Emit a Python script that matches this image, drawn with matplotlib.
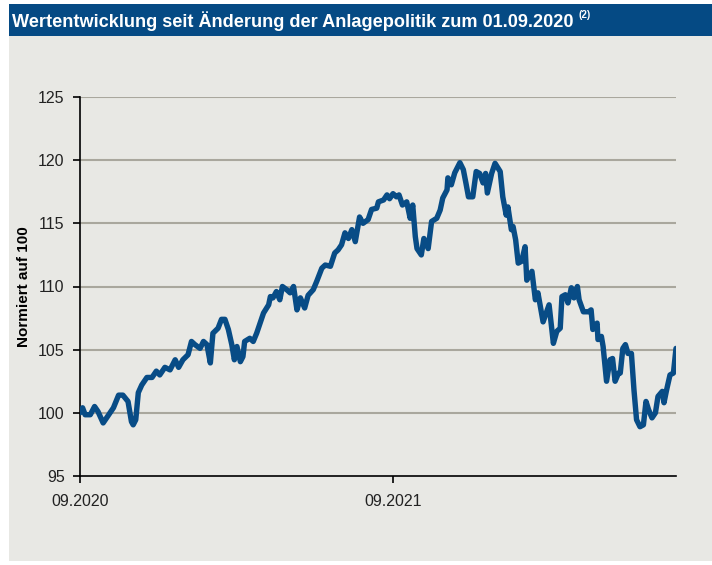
import matplotlib
matplotlib.use("Agg")
import matplotlib.pyplot as plt
from matplotlib.patches import Rectangle
import pandas as pd

# ---------------- data ----------------
start_date = "2020-09-01"
day_offsets = [0, 3, 6, 12, 17, 21, 27, 35, 39, 45, 50, 56, 60, 62, 65, 68, 72, 78, 84, 89,
               93, 99, 105, 111, 115, 120, 126, 130, 134, 140, 144, 148, 152, 155, 161, 165,
               169, 173, 177, 180, 183, 187, 190, 192, 198, 202, 206, 210, 214, 220, 222, 225,
               229, 233, 236, 241, 245, 249, 253, 257, 262, 266, 272, 276, 282, 286, 292, 297,
               301, 305, 309, 313, 317, 321, 326, 330, 336, 340, 346, 348, 354, 358, 361, 365,
               369, 372, 376, 381, 385, 388, 391, 393, 398, 401, 406, 410, 416, 420, 423, 428,
               429, 433, 437, 443, 447, 450, 453, 458, 462, 466, 470, 473, 475, 480, 484, 490,
               493, 497, 499, 503, 505, 508, 511, 515, 519, 521, 527, 531, 534, 540, 547, 552,
               556, 560, 562, 566, 569, 573, 576, 580, 582, 587, 593, 596, 598, 603, 604, 608,
               610, 614, 618, 621, 624, 628, 630, 633, 636, 639, 643, 646, 649, 653, 657, 660,
               663, 667, 671, 674, 679, 681, 684, 688, 692, 695]
values = [100.0, 100.4, 99.85, 99.85, 100.5, 100.1, 99.2, 100.0, 100.4, 101.4, 101.4, 100.9,
          99.3, 99.05, 99.45, 101.6, 102.2, 102.8, 102.8, 103.3, 103.0, 103.6, 103.4, 104.2,
          103.6, 104.2, 104.6, 105.65, 105.4, 105.1, 105.65, 105.4, 103.95, 106.3, 106.7, 107.4,
          107.4, 106.6, 105.4, 104.2, 105.25, 104.05, 104.45, 105.65, 105.9, 105.65, 106.3, 107.1,
          107.9, 108.55, 109.2, 109.1, 109.6, 108.95, 110.0, 109.75, 109.5, 110.0, 108.15, 109.1,
          108.3, 109.3, 109.75, 110.4, 111.45, 111.7, 111.6, 112.65, 112.9, 113.3, 114.25, 113.8,
          114.5, 113.55, 115.5, 115.0, 115.3, 116.1, 116.2, 116.7, 116.85, 117.25, 116.95, 117.35,
          117.1, 117.25, 116.45, 116.7, 115.4, 116.45, 113.95, 113.0, 112.5, 113.8, 113.0, 115.15,
          115.4, 116.05, 117.0, 117.65, 118.6, 118.05, 119.0, 119.8, 119.25, 118.2, 117.1, 117.1,
          119.1, 118.95, 118.2, 118.95, 117.4, 118.95, 119.75, 119.1, 117.1, 115.65, 116.3, 114.5,
          114.75, 113.7, 111.85, 112.0, 113.15, 110.5, 111.2, 108.95, 109.5, 107.2, 108.55, 105.5,
          106.45, 106.7, 109.2, 109.35, 108.7, 109.9, 109.1, 110.0, 108.95, 108.0, 108.0, 108.15,
          106.6, 107.1, 105.8, 106.05, 105.25, 102.5, 104.2, 104.3, 102.5, 103.15, 103.15, 105.1,
          105.4, 104.7, 104.7, 101.8, 99.45, 98.9, 99.05, 100.9, 100.25, 99.6, 100.0, 101.3,
          101.7, 100.8, 101.8, 103.0, 103.15, 105.1]
x_tick_dates = ["2020-09-01", "2021-09-01"]
x_tick_labels = ["09.2020", "09.2021"]
y_ticks = [95, 100, 105, 110, 115, 120, 125]
title = "Wertentwicklung seit Änderung der Anlagepolitik zum 01.09.2020"
title_note = "(2)"
y_label = "Normiert auf 100"

# ---------------- style ----------------
BLUE_BAR = "#054a84"
LINE = "#084c86"
PANEL = "#e8e8e4"
GRID = "#a9a79d"
fam = "Liberation Sans"
tick_size, title_size, ylab_size, note_size = 11.5, 13.1, 11, 7

W, H = 712, 565
fig = plt.figure(figsize=(W / 100, H / 100), dpi=100, facecolor="white")

# gray panel & title bar (behind axes)
fig.patches.append(Rectangle((9 / W, 1 - 561 / H), (W - 9) / W, (561 - 36) / H,
                             transform=fig.transFigure, facecolor=PANEL, edgecolor="none", zorder=-10))
fig.patches.append(Rectangle((9 / W, 1 - 36 / H), (W - 9) / W, 32 / H,
                             transform=fig.transFigure, facecolor=BLUE_BAR, edgecolor="none", zorder=-10))

t = fig.text(12 / W, 1 - 21 / H, title, color="white", fontsize=title_size, fontweight="bold",
             family=fam, va="center", ha="left")

ax = fig.add_axes([80 / W, 1 - 476 / H, (676 - 80) / W, (476 - 97) / H])
ax.patch.set_alpha(0.0)

dates = pd.Timestamp(start_date) + pd.to_timedelta(day_offsets, unit="D")
ax.plot(dates, values, color=LINE, lw=3.9, solid_joinstyle="round", solid_capstyle="round", zorder=3)

ax.set_ylim(95, 125)
ax.set_xlim(pd.Timestamp(start_date), pd.Timestamp(start_date) + pd.Timedelta(days=day_offsets[-1]))
ax.set_yticks(y_ticks)
ax.set_xticks(pd.to_datetime(x_tick_dates))
ax.set_xticklabels(x_tick_labels)
for yv in y_ticks[1:]:
    ax.axhline(yv, color=GRID, lw=1.5, zorder=1)

for s in ["top", "right"]:
    ax.spines[s].set_visible(False)
for s in ["left", "bottom"]:
    ax.spines[s].set_color("black")
    ax.spines[s].set_linewidth(1.2)
ax.tick_params(axis="both", direction="out", length=5, width=1.2, color="black",
               labelsize=tick_size, labelcolor="#222222")
ax.tick_params(axis="y", pad=6)
ax.tick_params(axis="x", pad=8)
for lab in ax.get_xticklabels() + ax.get_yticklabels():
    lab.set_family(fam)

ax.set_ylabel(y_label, fontsize=ylab_size, fontweight="bold", family=fam, color="black")
ax.yaxis.set_label_coords(-(80 - 31) / (676 - 80), 0.5)

# superscript note after title
fig.canvas.draw()
bb = t.get_window_extent()
fig.text((bb.x1 + 5) / W, 1 - 15 / H, title_note, color="white", fontsize=note_size,
         fontweight="bold", family=fam, va="center", ha="left")

fig.savefig("out.png", dpi=100, facecolor="white")
